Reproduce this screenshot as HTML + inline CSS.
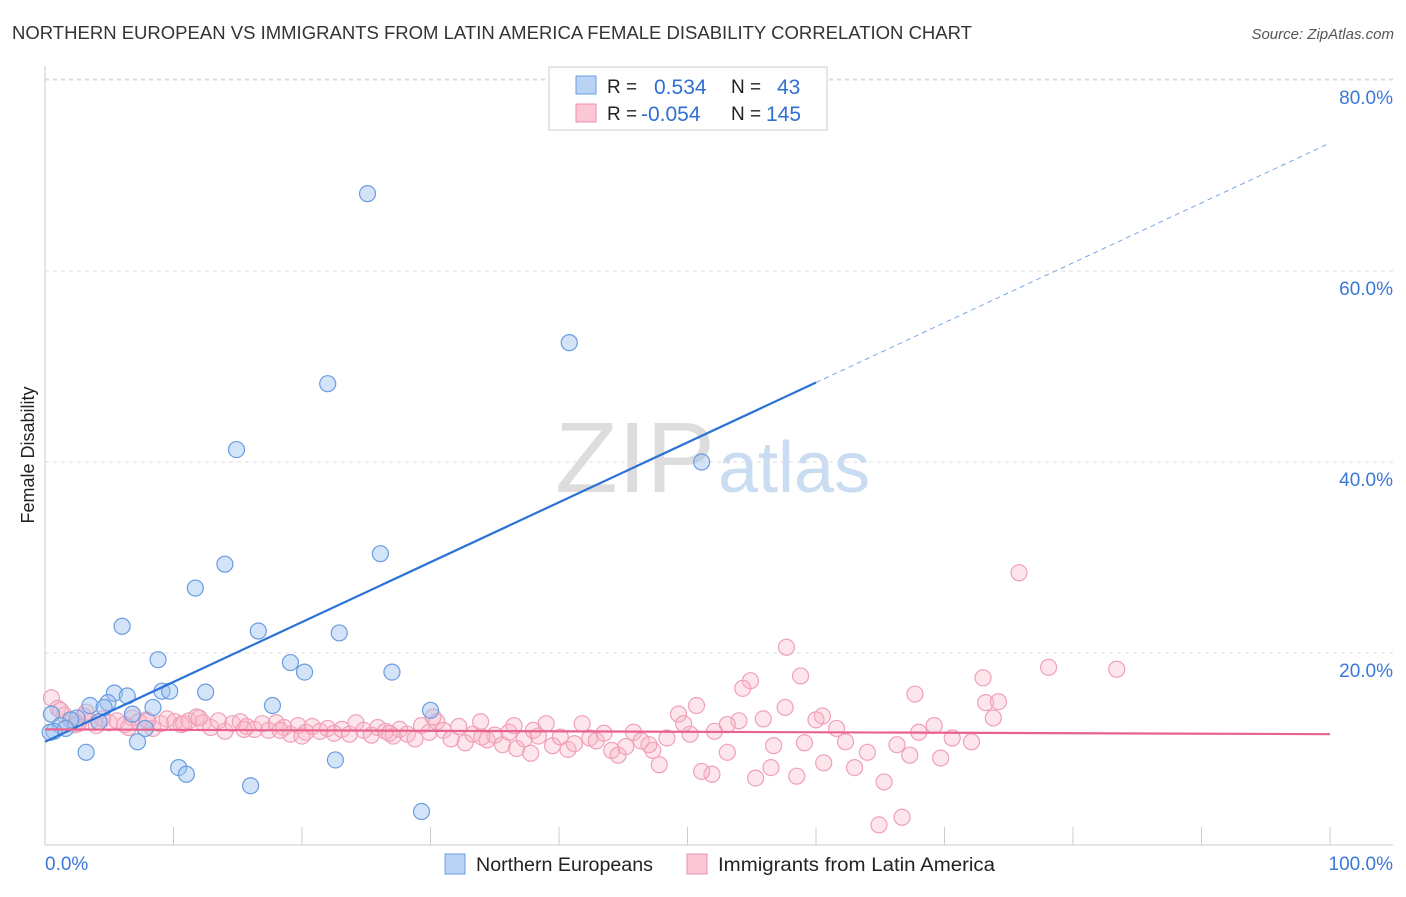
<!DOCTYPE html>
<html><head><meta charset="utf-8">
<style>
body{margin:0;background:#fff;font-family:"Liberation Sans",sans-serif;}
svg text{font-family:"Liberation Sans",sans-serif;}
</style></head>
<body>
<svg id="chart" width="1406" height="892" xmlns="http://www.w3.org/2000/svg">
<text x="12" y="39" font-size="18" fill="#333" textLength="960" lengthAdjust="spacingAndGlyphs">NORTHERN EUROPEAN VS IMMIGRANTS FROM LATIN AMERICA FEMALE DISABILITY CORRELATION CHART</text>
<text x="1394" y="39" font-size="15" fill="#555" font-style="italic" text-anchor="end">Source: ZipAtlas.com</text>
<text x="555" y="492" font-size="100" fill="#ddd" textLength="160" lengthAdjust="spacingAndGlyphs" font-family="Liberation Serif">ZIP</text>
<text x="718" y="492" font-size="72" fill="#c9dcf2">atlas</text>
<text x="34" y="455" font-size="18" fill="#222" text-anchor="middle" transform="rotate(-90 34 455)">Female Disability</text>
<g id="grid"></g><g id="axes"></g><g id="pink"></g><g id="blue"></g><g id="lines"></g>
<g>
<rect x="549" y="67" width="278" height="63" fill="#fff" stroke="#ccc"/>
<rect x="576" y="76" width="20" height="18" fill="#b9d3f5" stroke="#6c9ee0"/>
<rect x="576" y="104" width="20" height="18" fill="#fbc7d6" stroke="#ee92ae"/>
<text x="607" y="93" font-size="19" fill="#222">R = </text><text x="654" y="94" font-size="21" fill="#2f6fd0">0.534</text>
<text x="731" y="93" font-size="19" fill="#222">N = </text><text x="777" y="94" font-size="21" fill="#2f6fd0">43</text>
<text x="607" y="120" font-size="19" fill="#222">R = </text><text x="641" y="121" font-size="21" fill="#2f6fd0">-0.054</text>
<text x="731" y="120" font-size="19" fill="#222">N = </text><text x="766" y="121" font-size="21" fill="#2f6fd0">145</text>
</g>
<g>
<rect x="445" y="854" width="20" height="20" fill="#b9d3f5" stroke="#6c9ee0"/>
<text x="476" y="871" font-size="19" fill="#222" textLength="177" lengthAdjust="spacingAndGlyphs">Northern Europeans</text>
<rect x="687" y="854" width="20" height="20" fill="#fbc7d6" stroke="#ee92ae"/>
<text x="718" y="871" font-size="19" fill="#222" textLength="277" lengthAdjust="spacingAndGlyphs">Immigrants from Latin America</text>
</g>
</svg>
<script>
const yTicks=[20,40,60,80];
const xTickLabels=["0.0%","100.0%"];
const blueX=[25.1,40.8,22.0,14.9,51.1,26.1,14.0,11.7,6.0,16.6,22.9,8.8,19.1,20.2,27.0,9.1,9.7,12.5,5.4,6.4,4.9,3.5,4.6,8.4,17.7,30.0,6.8,0.5,2.5,2.0,4.2,1.2,1.6,0.7,0.4,7.8,7.2,3.2,10.4,11.0,22.6,16.0,29.3];
const blueY=[68.1,52.5,48.2,41.3,40.0,30.4,29.3,26.8,22.8,22.3,22.1,19.3,19.0,18.0,18.0,16.0,16.0,15.9,15.8,15.5,14.8,14.5,14.3,14.3,14.5,14.0,13.6,13.6,13.2,13.0,12.8,12.4,12.1,11.8,11.7,12.1,10.7,9.6,8.0,7.3,8.8,6.1,3.4];
const pinkX=[75.8,78.1,83.4,57.7,58.8,54.9,54.3,67.7,73.0,73.2,74.2,73.8,50.7,49.3,64.9,66.7,65.3,63.0,60.6,58.5,56.5,55.3,51.9,51.1,47.8,69.7,67.3,64.0,66.3,72.1,70.6,69.2,68.0,61.6,60.5,60.0,55.9,54.0,53.1,52.1,50.2,49.7,48.4,47.3,53.1,56.7,59.1,62.3,57.6,
0.5,1,1.5,2,2.6,3,3.5,4,4.5,5,5.6,6.2,6.8,7.3,7.9,8.4,9,9.5,10.1,10.6,11.2,11.8,12.3,12.9,13.5,14,14.6,15.2,15.7,16.3,16.9,17.4,18,18.6,19.1,19.7,20.3,20.8,21.4,22,22.5,23.1,23.7,24.2,24.8,25.4,25.9,26.5,27.1,27.6,28.2,28.8,29.3,29.9,30.5,31,31.6,32.2,32.7,33.3,33.9,34.4,35,35.6,36.1,36.7,37.3,37.8,38.4,39,39.5,40.1,40.7,41.2,41.8,42.4,42.9,43.5,44.1,44.6,45.2,45.8,46.4,47,3.2,8,12,20,30.2,36.5,38,1.2,2.3,6.5,10.8,15.5,18.3,26.8,34.0];
const pinkY=[28.4,18.5,18.3,20.6,17.6,17.1,16.3,15.7,17.4,14.8,14.9,13.2,14.5,13.6,2.0,2.8,6.5,8.0,8.5,7.1,8.0,6.9,7.3,7.6,8.3,9.0,9.3,9.6,10.4,10.7,11.1,12.4,11.7,12.1,13.4,13.0,13.1,12.9,12.5,11.8,11.5,12.6,11.1,9.8,9.6,10.3,10.6,10.7,14.3,
15.3,14.2,13.5,13.0,12.6,13.4,12.8,12.4,13.1,12.7,12.9,12.5,13.2,12.8,13.0,12.1,12.6,13.1,12.8,12.5,12.9,13.3,12.7,12.2,12.9,11.8,12.6,12.8,12.3,12.0,12.6,11.9,12.7,12.2,11.5,12.4,11.7,12.3,11.8,12.1,11.6,12.0,11.5,12.7,11.9,11.4,12.2,11.8,11.3,12.0,11.5,11.0,12.4,11.7,12.8,11.9,11.0,12.3,10.6,11.5,12.8,10.9,11.4,10.4,11.7,10.0,11.0,9.5,11.3,12.6,10.3,11.2,9.9,10.5,12.6,11.1,10.8,11.6,9.8,9.3,10.2,11.7,10.8,10.4,13.8,12.9,13.2,11.3,13.3,12.4,11.9,14.0,12.5,12.2,12.6,12.0,11.9,11.6,11.2];
const blueFit=[10.7,73.4];
const pinkFit=[12.0,11.5];
const NS="http://www.w3.org/2000/svg";
const X=v=>45+v*12.85, Y=v=>844-v*9.55;
function mk(p,t,a){const e=document.createElementNS(NS,t);for(const k in a)e.setAttribute(k,a[k]);document.getElementById(p).appendChild(e);return e;}
let g=mk('grid','line',{x1:45,x2:1393,y1:Y(80)-1,y2:Y(80)-1,stroke:'#ddd','stroke-dasharray':'4,4'});


yTicks.forEach(t=>{
 const l=mk('grid','line',{x1:45,x2:1393,y1:Y(t),y2:Y(t),stroke:'#ddd','stroke-dasharray':'4,4'});
 
 
 const tx=mk('grid','text',{x:1393,y:Y(t)+24,'font-size':19,fill:'#3a78d8','text-anchor':'end'});
 tx.textContent=t.toFixed(1)+'%';
 
 
});
let ax=mk('axes','line',{x1:45,x2:1393,y1:845,y2:845,stroke:'#ccc'});


let ay=mk('axes','line',{x1:45,x2:45,y1:66,y2:845,stroke:'#ccc'});


for(let i=0;i<=10;i++){const t=mk('axes','line',{x1:X(i*10),x2:X(i*10),y1:827,y2:845,stroke:'#ccc'});
 
 }
let l0=mk('axes','text',{x:45,y:870,'font-size':19,fill:'#3a78d8'});l0.textContent=xTickLabels[0];


let l1=mk('axes','text',{x:1393,y:870,'font-size':19,fill:'#3a78d8','text-anchor':'end'});l1.textContent=xTickLabels[1];


pinkX.forEach((x,i)=>{const c=mk('pink','circle',{cx:X(x),cy:Y(pinkY[i]),r:8,fill:'rgba(248,180,200,0.35)',stroke:'#f0a0b8','stroke-width':1.2});
 
 });
blueX.forEach((x,i)=>{const c=mk('blue','circle',{cx:X(x),cy:Y(blueY[i]),r:8,fill:'rgba(160,195,240,0.45)',stroke:'#6a9ce0','stroke-width':1.2});
 
 });
const by=x=>blueFit[0]+(blueFit[1]-blueFit[0])*x/100;
let bl=mk('lines','line',{x1:X(0),y1:Y(by(0)),x2:X(60),y2:Y(by(60)),stroke:'#2a72d8','stroke-width':2.2});


let bd=mk('lines','line',{x1:X(60),y1:Y(by(60)),x2:X(100),y2:Y(by(100)),stroke:'#7aa6e6','stroke-width':1,'stroke-dasharray':'5,4'});


let pl=mk('lines','line',{x1:X(0),y1:Y(pinkFit[0]),x2:X(100),y2:Y(pinkFit[1]),stroke:'#e8628e','stroke-width':2.2});


</script>
</body></html>
